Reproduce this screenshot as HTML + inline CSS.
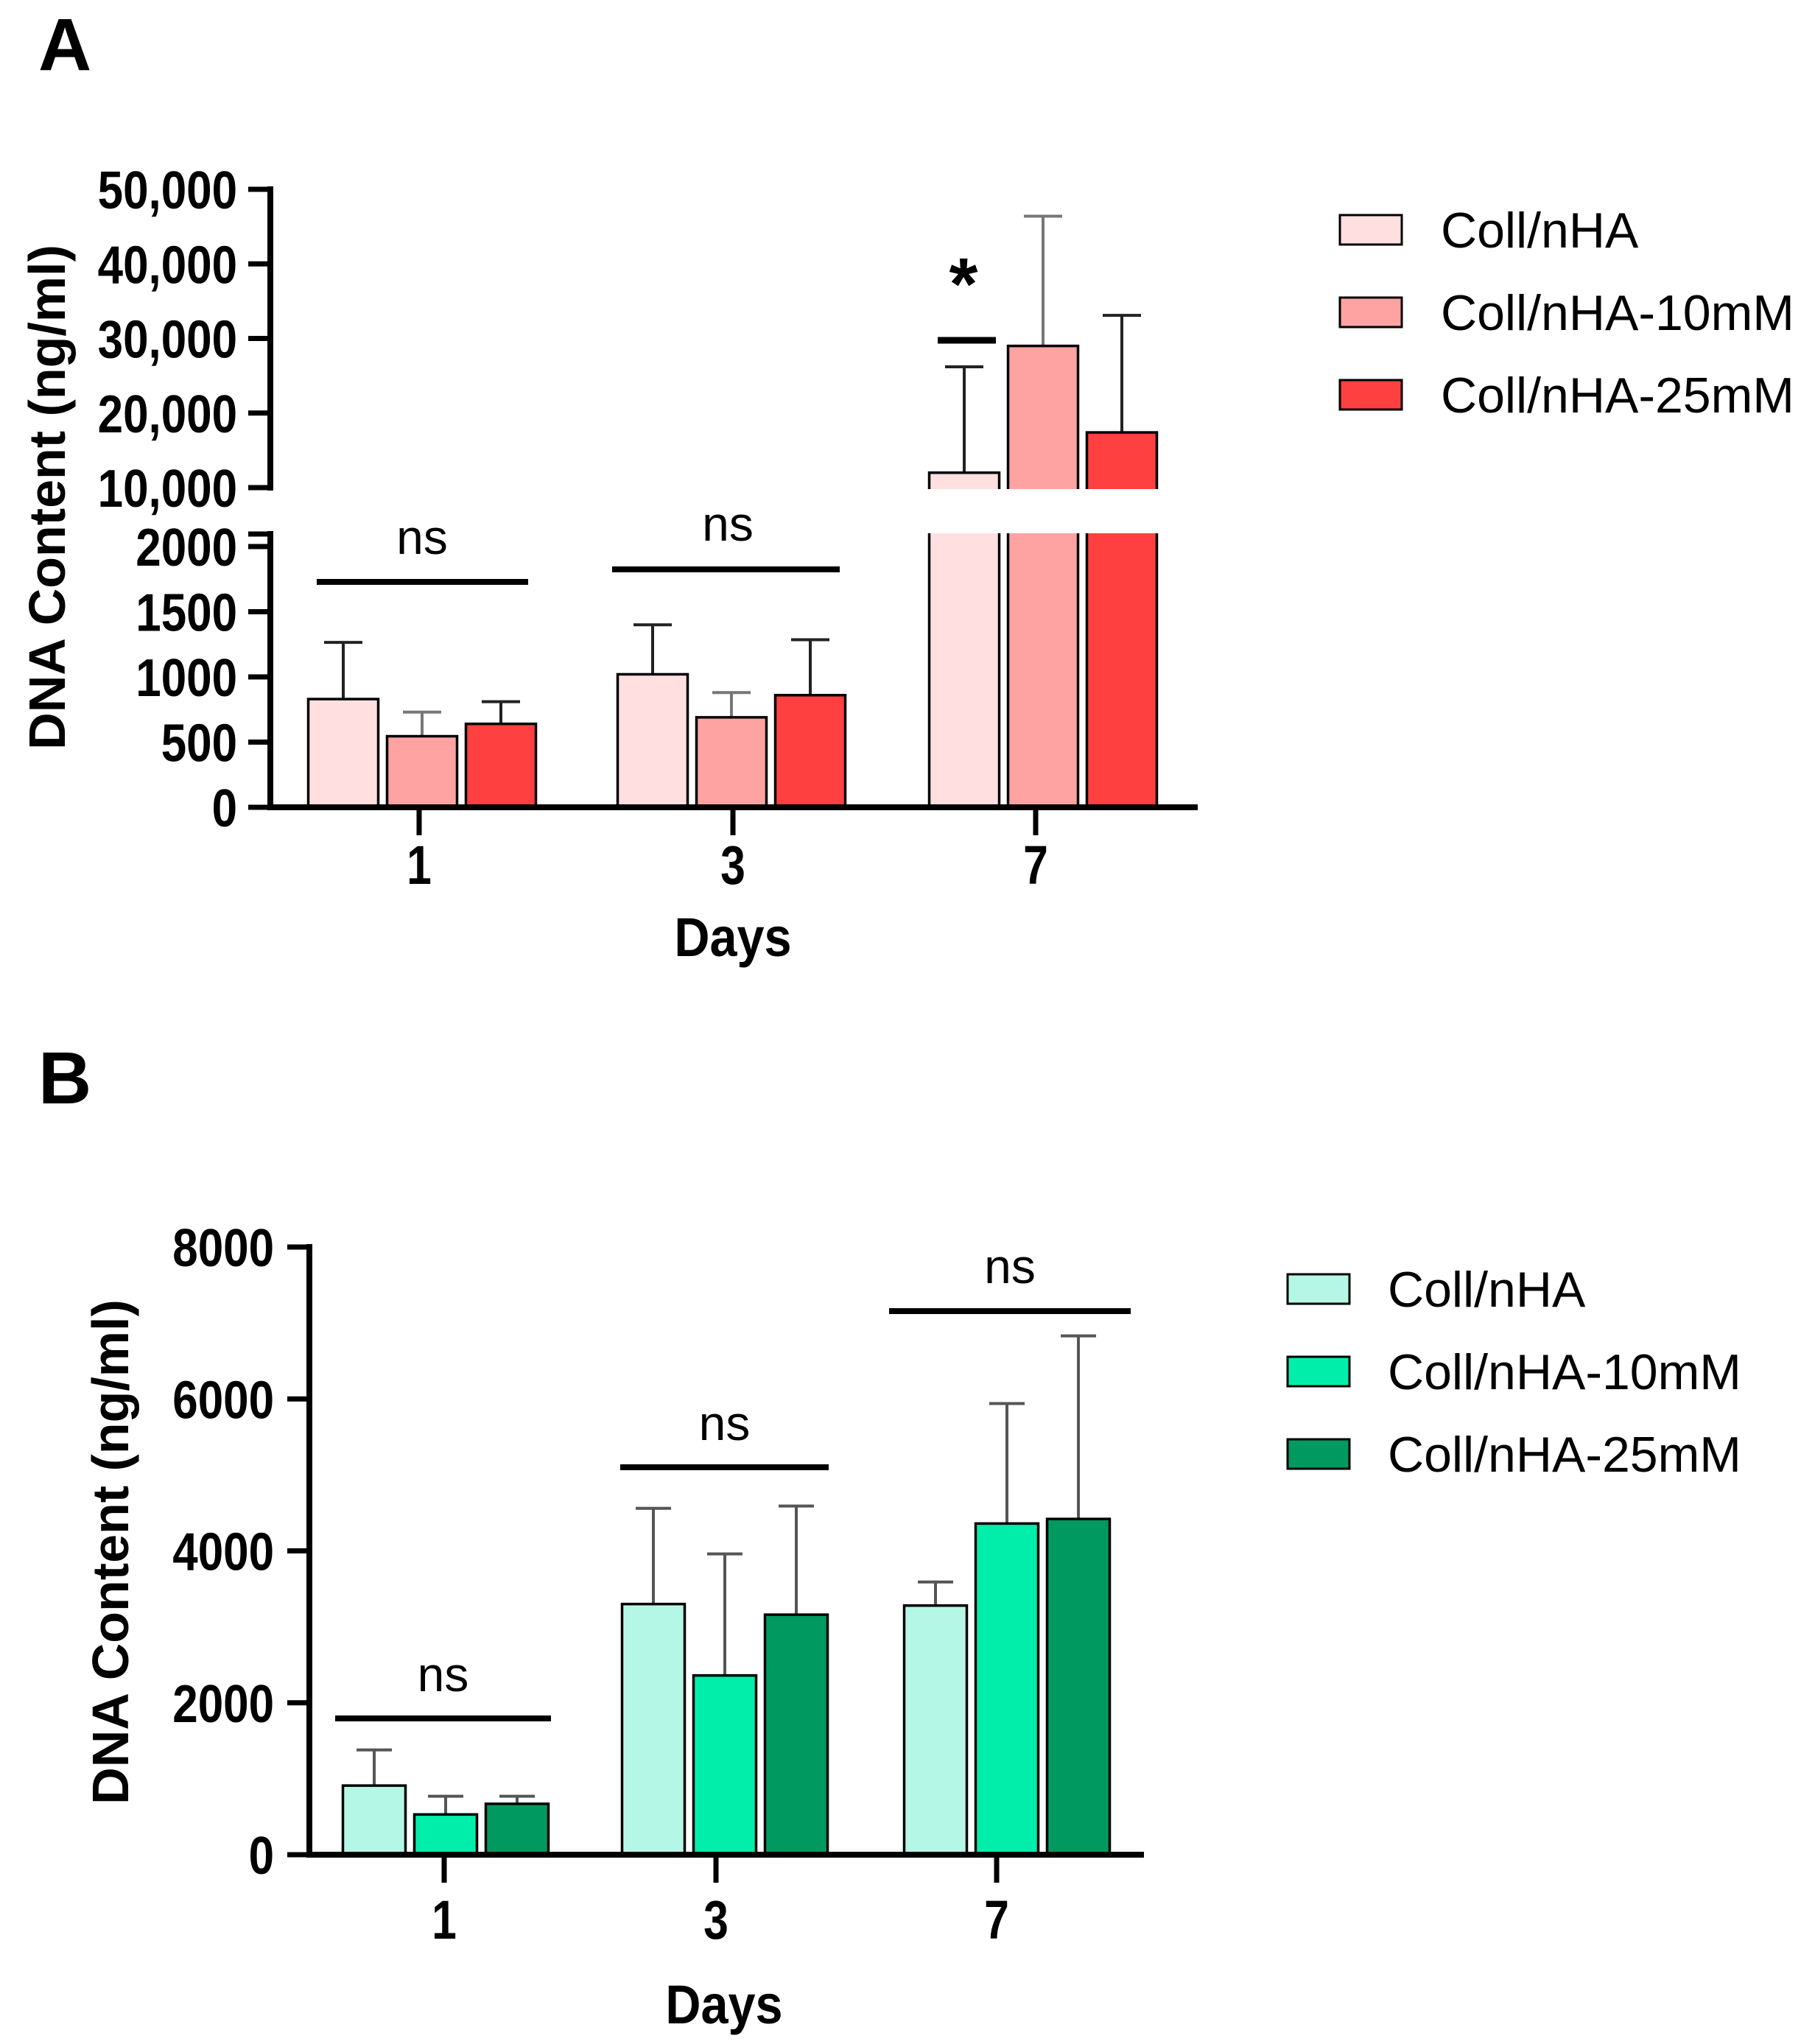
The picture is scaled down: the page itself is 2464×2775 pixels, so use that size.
<!DOCTYPE html>
<html><head><meta charset="utf-8"><style>
html,body{margin:0;padding:0;background:#fff;}
svg{display:block;font-family:"Liberation Sans",Arial,sans-serif;}
</style></head><body>
<svg id="chart" width="2464" height="2775" viewBox="0 0 2464 2775" xmlns="http://www.w3.org/2000/svg">
<text x="52" y="95" font-size="100" font-weight="bold">A</text>
<text x="52" y="1498" font-size="100" font-weight="bold">B</text>
<g id="pa"></g>
<g id="pb"></g>
</svg>
<script>
const categories = ["1","3","7"];
const seriesNames = ["Coll/nHA","Coll/nHA-10mM","Coll/nHA-25mM"];
const aMeans = [[830,1020,12000],[545,690,29000],[640,860,17400]];
const aErrTop = [[1265,1400,26200],[730,880,46400],[810,1285,33100]];
const aLowTicks = [0,500,1000,1500,2000];
const aLowTickLabels = ["0","500","1000","1500","2000"];
const aHighTicks = [10000,20000,30000,40000,50000];
const aHighTickLabels = ["10,000","20,000","30,000","40,000","50,000"];
const bMeans = [[910,3300,3280],[530,2360,4360],[670,3160,4420]];
const bErrTop = [[1380,4560,3590],[770,3960,5940],[770,4590,6830]];
const bTicks = [0,2000,4000,6000,8000];
const bTickLabels = ["0","2000","4000","6000","8000"];
const aColors = ["#ffdfe0","#ffa3a2","#ff4040"];
const bColors = ["#b5f7e6","#00eeaa","#00995f"];
const NS="http://www.w3.org/2000/svg";
function mk(parent,tag,attrs,txt){const e=document.createElementNS(NS,tag);for(const k in attrs)e.setAttribute(k,attrs[k]);if(txt!==undefined)e.textContent=txt;parent.appendChild(e);return e;}

// ---------- Panel A ----------
const pa=document.getElementById('pa');
const axA=367, x0A=1096, lowTopA=725, highBotA=662;
function yLowA(v){return 1096 - v*0.177;}
function yHighA(v){return 662 - (v-10000)*0.010125;}
function yA(v){return v<=2000?yLowA(v):yHighA(Math.max(v,10000));}
const centersA=[573,993,1416], pitchA=107, bwA=95;
for(let s=0;s<3;s++){for(let c=0;c<3;c++){
  const cx=centersA[c]+(s-1)*pitchA, v=aMeans[s][c], et=aErrTop[s][c];
  const top=yA(v);
  const eg=mk(pa,'line',{x1:cx,x2:cx,y1:yA(et),y2:top,stroke:s==1?'#777':'#222','stroke-width':4});
  
  
  const cap=mk(pa,'line',{x1:cx-26,x2:cx+26,y1:yA(et),y2:yA(et),stroke:s==1?'#777':'#222','stroke-width':4});
  
  
  const r=mk(pa,'rect',{x:cx-bwA/2,y:top,width:bwA,height:x0A-top,fill:aColors[s],stroke:'#000','stroke-width':3.5});
  
  
}}
mk(pa,'rect',{x:axA+10,y:highBotA+2,width:1300,height:lowTopA-highBotA-3,fill:'#fff',});
mk(pa,'line',{x1:axA,x2:axA,y1:253,y2:highBotA+4,stroke:'#000','stroke-width':8,});
mk(pa,'line',{x1:axA,x2:axA,y1:lowTopA-4,y2:x0A+4,stroke:'#000','stroke-width':8,});
mk(pa,'line',{x1:axA-4,x2:1626,y1:x0A,y2:x0A,stroke:'#000','stroke-width':8,});
mk(pa,'line',{x1:axA-30,x2:axA,y1:lowTopA,y2:lowTopA,stroke:'#000','stroke-width':7,});
aLowTicks.forEach((t,i)=>{const y=yLowA(t);
  mk(pa,'line',{x1:axA-30,x2:axA,y1:y,y2:y,stroke:'#000','stroke-width':7,});
  mk(pa,'text',{transform:`translate(322,${y+26}) scale(0.86,1)`,'text-anchor':'end','font-size':72,'font-weight':'bold',},aLowTickLabels[i]);});
aHighTicks.forEach((t,i)=>{const y=yHighA(t);
  mk(pa,'line',{x1:axA-30,x2:axA,y1:y,y2:y,stroke:'#000','stroke-width':7,});
  mk(pa,'text',{transform:`translate(322,${y+26}) scale(0.86,1)`,'text-anchor':'end','font-size':72,'font-weight':'bold',},aHighTickLabels[i]);});
categories.forEach((c,i)=>{const x=[569,995,1406][i];
  mk(pa,'line',{x1:x,x2:x,y1:x0A,y2:x0A+38,stroke:'#000','stroke-width':7,});
  mk(pa,'text',{transform:`translate(${x},1200) scale(0.82,1)`,'text-anchor':'middle','font-size':74,'font-weight':'bold',},c);});
mk(pa,'text',{transform:'translate(995,1298) scale(0.9,1)','text-anchor':'middle','font-size':74,'font-weight':'bold',},'Days');
mk(pa,'text',{transform:'translate(88,675) rotate(-90)','text-anchor':'middle','font-size':70,'font-weight':'bold',},'DNA Content (ng/ml)');
mk(pa,'line',{x1:430,x2:717,y1:790,y2:790,stroke:'#000','stroke-width':8,});
mk(pa,'text',{x:573,y:752,'text-anchor':'middle','font-size':66,},'ns');
mk(pa,'line',{x1:831,x2:1140,y1:773,y2:773,stroke:'#000','stroke-width':8,});
mk(pa,'text',{x:988,y:734,'text-anchor':'middle','font-size':66,},'ns');
mk(pa,'line',{x1:1273,x2:1352,y1:462,y2:462,stroke:'#000','stroke-width':9,});
mk(pa,'text',{x:1308,y:420,'text-anchor':'middle','font-size':100,'font-weight':'bold',},'*');
seriesNames.forEach((n,i)=>{const y=312+i*112;
  mk(pa,'rect',{x:1819,y:y-20,width:84,height:40,fill:aColors[i],stroke:'#000','stroke-width':3,});
  mk(pa,'text',{x:1956,y:y+24,'font-size':68,},n);});

// ---------- Panel B ----------
const pb=document.getElementById('pb');
const axB=420, x0B=2518;
function yB(v){return 2518 - v*0.103125;}
const centersB=[605,984,1367], pitchB=97, bwB=85;
for(let s=0;s<3;s++){for(let c=0;c<3;c++){
  const cx=centersB[c]+(s-1)*pitchB, v=bMeans[s][c], et=bErrTop[s][c];
  const top=yB(v);
  const eg=mk(pb,'line',{x1:cx,x2:cx,y1:yB(et),y2:top,stroke:'#555','stroke-width':4});
  
  
  const cap=mk(pb,'line',{x1:cx-24,x2:cx+24,y1:yB(et),y2:yB(et),stroke:'#555','stroke-width':4});
  
  
  const r=mk(pb,'rect',{x:cx-bwB/2,y:top,width:bwB,height:x0B-top,fill:bColors[s],stroke:'#000','stroke-width':3.5});
  
  
}}
mk(pb,'line',{x1:axB,x2:axB,y1:1689,y2:x0B+4,stroke:'#000','stroke-width':8,});
mk(pb,'line',{x1:axB-4,x2:1553,y1:x0B,y2:x0B,stroke:'#000','stroke-width':8,});
bTicks.forEach((t,i)=>{const y=yB(t);
  mk(pb,'line',{x1:axB-30,x2:axB,y1:y,y2:y,stroke:'#000','stroke-width':7,});
  mk(pb,'text',{transform:`translate(372,${y+26}) scale(0.86,1)`,'text-anchor':'end','font-size':72,'font-weight':'bold',},bTickLabels[i]);});
categories.forEach((c,i)=>{const x=[603,972,1353][i];
  mk(pb,'line',{x1:x,x2:x,y1:x0B,y2:x0B+38,stroke:'#000','stroke-width':7,});
  mk(pb,'text',{transform:`translate(${x},2632) scale(0.82,1)`,'text-anchor':'middle','font-size':74,'font-weight':'bold',},c);});
mk(pb,'text',{transform:'translate(983,2747) scale(0.9,1)','text-anchor':'middle','font-size':74,'font-weight':'bold',},'Days');
mk(pb,'text',{transform:'translate(174,2107) rotate(-90)','text-anchor':'middle','font-size':70,'font-weight':'bold',},'DNA Content (ng/ml)');
[[455,748,2333,2296],[842,1125,1992,1955],[1207,1535,1780,1742]].forEach((L,i)=>{
  mk(pb,'line',{x1:L[0],x2:L[1],y1:L[2],y2:L[2],stroke:'#000','stroke-width':8,});
  mk(pb,'text',{x:(L[0]+L[1])/2,y:L[3],'text-anchor':'middle','font-size':66,},'ns');});
seriesNames.forEach((n,i)=>{const y=1750+i*112;
  mk(pb,'rect',{x:1748,y:y-20,width:84,height:40,fill:bColors[i],stroke:'#000','stroke-width':3,});
  mk(pb,'text',{x:1884,y:y+24,'font-size':68,},n);});
</script>
</body></html>
